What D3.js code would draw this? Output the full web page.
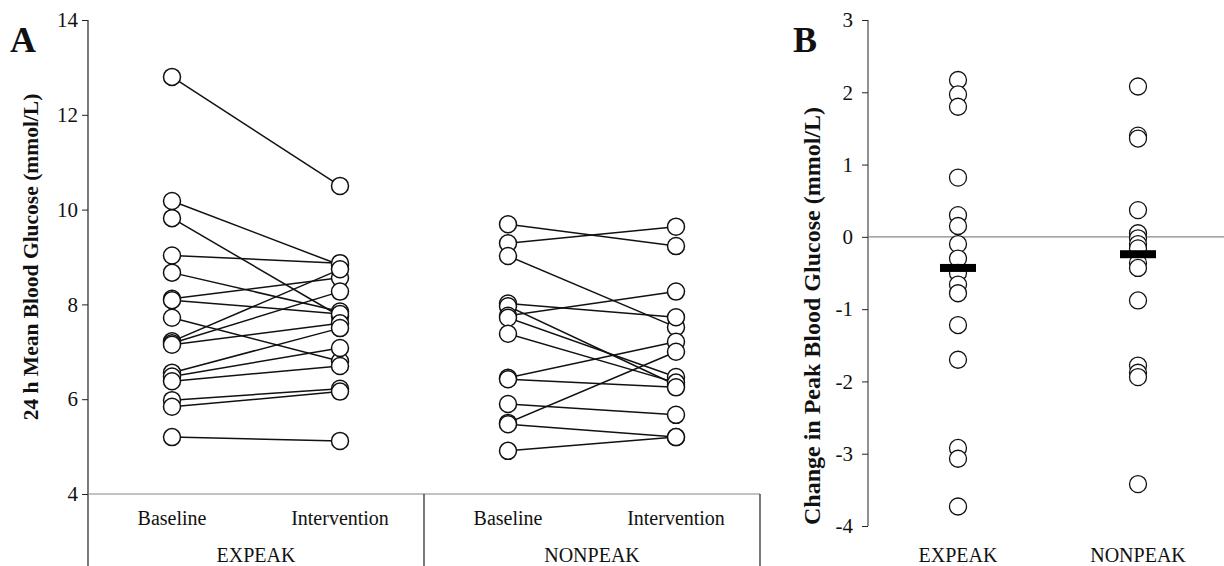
<!DOCTYPE html>
<html>
<head>
<meta charset="utf-8">
<script src="https://cdn.jsdelivr.net/npm/d3@7"></script>
<style>
  body { margin: 0; background: #fff; }
  text { font-family: "Liberation Serif", "Times New Roman", serif; fill: #111; }
</style>
</head>
<body>
<script>
// Panel A data: paired 24 h mean glucose (mmol/L)
var groups = ["EXPEAK", "NONPEAK"];
var phases = ["Baseline", "Intervention"];
var expBase = [12.80, 10.18, 9.82, 9.03, 8.67, 8.12, 8.09, 7.72, 7.22, 7.18, 7.15, 6.56, 6.48, 6.38, 5.98, 5.84, 5.20];
var expInt  = [10.50, 8.83, 7.75, 8.87, 7.85, 8.56, 7.80, 6.80, 8.74, 8.27, 7.60, 7.50, 7.08, 6.70, 6.22, 6.16, 5.12];
var npBase  = [9.69, 9.29, 9.02, 8.02, 7.96, 7.76, 7.72, 7.38, 6.45, 6.42, 5.90, 5.50, 5.47, 4.91];
var npInt   = [9.23, 9.64, 7.52, 7.73, 6.30, 8.27, 6.47, 6.35, 7.21, 6.25, 5.67, 7.00, 5.20, 5.20];
var yTicksA = [4, 6, 8, 10, 12, 14];

// Panel B data: change in peak glucose
var changeExp = [2.17, 1.97, 1.80, 0.82, 0.30, 0.15, -0.10, -0.30, -0.50, -0.66, -0.78, -1.22, -1.70, -2.92, -3.07, -3.73];
var changeNon = [2.08, 1.40, 1.36, 0.37, 0.05, -0.02, -0.10, -0.16, -0.36, -0.43, -0.88, -1.78, -1.88, -1.94, -3.42];
var changeMean = [-0.43, -0.24];
var yTicksB = [-4, -3, -2, -1, 0, 1, 2, 3];

var w = 1224, h = 566;
var svg = d3.select("body").append("svg")
    .attr("width", w)
    .attr("height", h);

// ---------- Panel A ----------
var yA = d3.scaleLinear().domain([4, 14]).range([494, 20]);
var xGroup = d3.scaleBand().domain(groups).range([88, 760]);
var xPhase = d3.scaleBand().domain(phases).range([0, xGroup.bandwidth()]);

function xA(g, p) { return xGroup(g) + xPhase(p) + xPhase.bandwidth() / 2; }

var pairs = [];
expBase.forEach(function(v, i) { pairs.push({ g: "EXPEAK", a: v, b: expInt[i] }); });
npBase.forEach(function(v, i) { pairs.push({ g: "NONPEAK", a: v, b: npInt[i] }); });

// y axis
var axA = svg.append("g")
    .attr("transform", "translate(88,0)")
    .call(d3.axisLeft(yA).tickValues(yTicksA).tickSize(6).tickPadding(4));
axA.select(".domain").remove();
axA.selectAll(".tick line").attr("stroke", "#222");
axA.selectAll(".tick text").style("font-size", "21px").attr("fill", "#222");
svg.append("line").attr("x1", 88).attr("x2", 88).attr("y1", 20).attr("y2", h)
    .attr("stroke", "#222").attr("stroke-width", 1.2);

// baseline and category separators
svg.append("line").attr("x1", 88).attr("x2", 760).attr("y1", yA(4)).attr("y2", yA(4))
    .attr("stroke", "#888").attr("stroke-width", 1.2);
groups.forEach(function(g) {
    svg.append("line")
        .attr("x1", xGroup(g) + xGroup.bandwidth()).attr("x2", xGroup(g) + xGroup.bandwidth())
        .attr("y1", yA(4)).attr("y2", h)
        .attr("stroke", "#222").attr("stroke-width", 1.2);
    phases.forEach(function(p) {
        svg.append("text")
            .attr("x", xA(g, p)).attr("y", 525)
            .attr("text-anchor", "middle")
            .style("font-size", "20px")
            .text(p);
    });
    svg.append("text")
        .attr("x", xGroup(g) + xGroup.bandwidth() / 2).attr("y", 562)
        .attr("text-anchor", "middle")
        .style("font-size", "20px")
        .text(g);
});

// paired lines
svg.selectAll(".pair")
    .data(pairs)
    .enter()
    .append("line")
    .attr("class", "pair")
    .attr("x1", d => xA(d.g, "Baseline"))
    .attr("x2", d => xA(d.g, "Intervention"))
    .attr("y1", d => yA(d.a))
    .attr("y2", d => yA(d.b))
    .attr("stroke", "#111")
    .attr("stroke-width", 1.5);

var ptsA = [];
pairs.forEach(function(d) {
    ptsA.push({ g: d.g, p: "Baseline", v: d.a });
    ptsA.push({ g: d.g, p: "Intervention", v: d.b });
});
svg.selectAll(".ptA")
    .data(ptsA)
    .enter()
    .append("circle")
    .attr("class", "ptA")
    .attr("cx", d => xA(d.g, d.p))
    .attr("cy", d => yA(d.v))
    .attr("r", 8.5)
    .style("fill", "#fff")
    .style("stroke", "#111")
    .style("stroke-width", 1.5);

svg.append("text")
    .attr("transform", "translate(38," + 257 + ") rotate(-90)")
    .attr("text-anchor", "middle")
    .style("font-size", "21.5px")
    .style("font-weight", "bold")
    .text("24 h Mean Blood Glucose (mmol/L)");

svg.append("text")
    .attr("x", 10).attr("y", 52)
    .style("font-size", "36px")
    .style("font-weight", "bold")
    .text("A");

// ---------- Panel B ----------
var yB = d3.scaleLinear().domain([-4, 3]).range([526, 20]);
var xB = d3.scaleBand().domain(groups).range([868, 1228]);

var axB = svg.append("g")
    .attr("transform", "translate(868,0)")
    .call(d3.axisLeft(yB).tickValues(yTicksB).tickSize(6).tickPadding(9)
        .tickFormat(d => d < 0 ? "-" + Math.abs(d) : d));
axB.select(".domain").attr("stroke", "#222").attr("d", "M0," + yB(3) + "V" + yB(-4));
axB.selectAll(".tick line").attr("stroke", "#222");
axB.selectAll(".tick text").style("font-size", "21px").attr("fill", "#222");

svg.append("line").attr("x1", 868).attr("x2", w).attr("y1", yB(0)).attr("y2", yB(0))
    .attr("stroke", "#888").attr("stroke-width", 1.2);

var ptsB = [];
changeExp.forEach(v => ptsB.push({ g: "EXPEAK", v: v }));
changeNon.forEach(v => ptsB.push({ g: "NONPEAK", v: v }));

svg.selectAll(".ptB")
    .data(ptsB)
    .enter()
    .append("circle")
    .attr("class", "ptB")
    .attr("cx", d => xB(d.g) + xB.bandwidth() / 2)
    .attr("cy", d => yB(d.v))
    .attr("r", 8.5)
    .style("fill", "#fff")
    .style("stroke", "#111")
    .style("stroke-width", 1.3);

svg.selectAll(".meanB")
    .data(changeMean)
    .enter()
    .append("rect")
    .attr("class", "meanB")
    .attr("x", (d, i) => xB(groups[i]) + xB.bandwidth() / 2 - 18)
    .attr("y", d => yB(d) - 4)
    .attr("width", 36)
    .attr("height", 8)
    .style("fill", "#000");

groups.forEach(function(g) {
    svg.append("text")
        .attr("x", xB(g) + xB.bandwidth() / 2).attr("y", 562)
        .attr("text-anchor", "middle")
        .style("font-size", "20px")
        .text(g);
});

svg.append("text")
    .attr("transform", "translate(820,316) rotate(-90)")
    .attr("text-anchor", "middle")
    .style("font-size", "24px")
    .style("font-weight", "bold")
    .text("Change in Peak Blood Glucose (mmol/L)");

svg.append("text")
    .attr("x", 793).attr("y", 52)
    .style("font-size", "36px")
    .style("font-weight", "bold")
    .text("B");
</script>
</body>
</html>
